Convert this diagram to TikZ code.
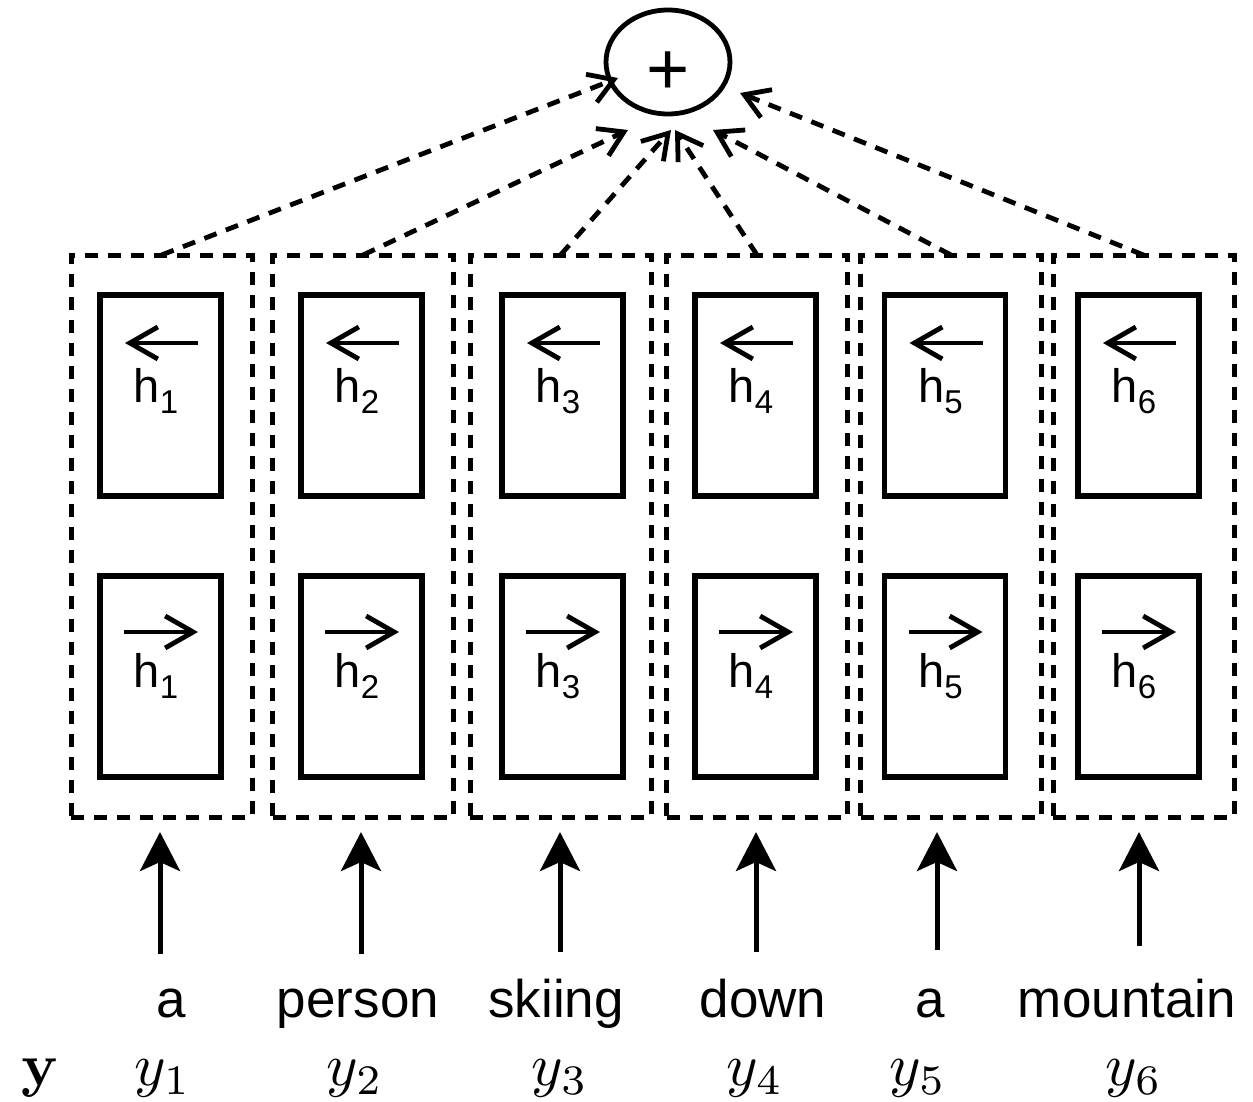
\documentclass[tikz,border=0pt]{standalone}
\usepackage[no-math]{fontspec}
\setmainfont{Liberation Sans}
\usetikzlibrary{arrows.meta,shapes.geometric}
\newcommand\hidx[1]{\raisebox{-5.5pt}{\fontsize{16.5}{18}\selectfont #1}}
\newcommand\bigmath[1]{\scalebox{3}{$#1$}}
\begin{document}
\begin{tikzpicture}[x=0.5pt,y=-0.5pt,
  every node/.style={inner sep=0pt,outer sep=0pt},
  dsh/.style={dash pattern=on 6.5pt off 5pt},
  group/.style={draw,dsh,line width=2.5pt,minimum width=90.5pt,minimum height=281pt},
  cell/.style={draw,line width=2.6pt,minimum width=60.5pt,minimum height=100.5pt},
  harrow/.style={line width=2.4pt,-{Straight Barb[length=14pt,width=16pt,line width=2.4pt]}},
  conn/.style={dsh,line width=2.4pt,-{Straight Barb[length=12pt,width=15pt,line width=2.4pt]}},
  uparr/.style={line width=2.5pt,-{Stealth[length=19.5pt,width=20pt,inset=4.5pt]}},
  sumnode/.style={draw,ellipse,line width=2.4pt,minimum width=62pt,minimum height=52pt},
  hlab/.style={anchor=base,font=\fontsize{23.5}{26}\selectfont},
  word/.style={anchor=base,font=\fontsize{26.5}{30}\selectfont},
  sym/.style={anchor=base}]
\useasboundingbox (0,0) rectangle (1253,1102);

% summation node
\node[sumnode,label={[font=\fontsize{37}{40}\selectfont,yshift=-5.75pt]center:+}] (sum) at (668,62) {};

% end points of the connectors on the summation node
\coordinate (t1) at (618,78);
\coordinate (t2) at (628,130);
\coordinate (t3) at (671,130);
\coordinate (t4) at (675,130);
\coordinate (t5) at (713,130);
\coordinate (t6) at (740,93);

% one column per word: bidirectional cells, dashed group, input arrow, labels
\foreach \i/\gx/\cx/\ax/\ay/\wx/\wtext/\mx in {
    1/161.5/160.5/160/954/171/a/163,
    2/363/361.5/361/954/358/person/355,
    3/560.5/562.5/560/952/556/skiing/560,
    4/757/755.5/756/952/763/down/755,
    5/951/945/937/950/930/a/918,
    6/1143.5/1138.5/1139/946/1127/mountain/1134} {
  \node[group] (g\i) at (\gx,536) {};
  \node[cell] (u\i) at (\cx,395.5) {};
  \node[cell] (d\i) at (\cx,676.5) {};
  \draw[harrow] ([shift={(37.5,-52.5)}]u\i.center) -- ([shift={(-35.5,-52.5)}]u\i.center);
  \draw[harrow] ([shift={(-36.5,-44.5)}]d\i.center) -- ([shift={(37.5,-44.5)}]d\i.center);
  \node[hlab] (hu\i) at ([shift={(-4.5,6.5)}]u\i.center) {h\hidx{\i}};
  \node[hlab] (hd\i) at ([shift={(-4.5,10.5)}]d\i.center) {h\hidx{\i}};
  \node[word] (w\i) at (\wx,1017) {\wtext};
  \node[sym] (m\i) at (\mx,1085) {\bigmath{y_{\i}}};
  \coordinate (b\i) at (\ax,\ay);
  \draw[uparr,shorten >=7.5pt] (b\i) -- (b\i |- g\i.south);
  \draw[conn] (g\i.north) -- (t\i);
}

\node[sym] (yvec) at (40,1085) {\bigmath{\mathbf{y}}};
\end{tikzpicture}
\end{document}
